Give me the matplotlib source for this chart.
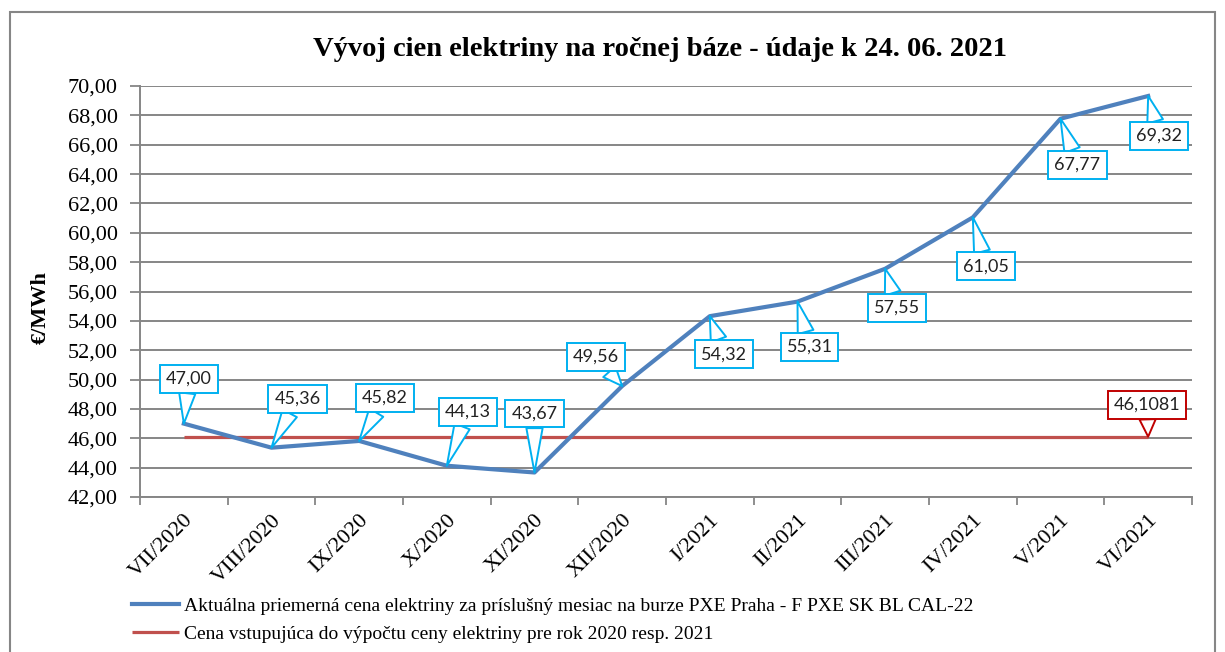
import matplotlib.pyplot as plt
from matplotlib.patches import Rectangle
import matplotlib.transforms as mtransforms
import numpy as np

months = ["VII/2020", "VIII/2020", "IX/2020", "X/2020", "XI/2020", "XII/2020",
          "I/2021", "II/2021", "III/2021", "IV/2021", "V/2021", "VI/2021"]
prices = [47.00, 45.36, 45.82, 44.13, 43.67, 49.56,
          54.32, 55.31, 57.55, 61.05, 67.77, 69.32]
base_price = 46.1081

label_blue = "Aktuálna priemerná cena elektriny za príslušný mesiac na burze PXE Praha - F PXE SK BL CAL-22"
label_red = "Cena vstupujúca do výpočtu ceny elektriny pre rok 2020 resp. 2021"
title = "Vývoj cien elektriny na ročnej báze - údaje k 24. 06. 2021"

# callout offsets in pixels (dx, dy), up is positive
offsets = [(5, 45), (26, 49), (26, 43), (21, 54), (0, 59), (-26, 29),
           (14, -38), (12, -45), (12, -39), (13, -49), (17, -46), (11, -40)]
red_offset = (-1, 32)

plt.rcParams['font.family'] = ['Liberation Serif', 'DejaVu Serif']

fig = plt.figure(figsize=(12.25, 6.52), dpi=100)
ax = fig.add_axes([140 / 1225, 1 - 497 / 652, (1192 - 140) / 1225, (497 - 86) / 652])

x = np.arange(len(months))
ax.plot([x[0], x[-1]], [base_price, base_price], color='#C0504D', lw=2.3,
        solid_capstyle='butt', label=label_red, zorder=3)
ax.plot(x, prices, color='#4F81BD', lw=3.0, label=label_blue, zorder=4)

cyan = '#00B0F0'
for xi, yi, (dx, dy) in zip(x, prices, offsets):
    ax.annotate(f"{yi:.2f}".replace('.', ','), xy=(xi, yi),
                xytext=(dx * 0.72, dy * 0.72), textcoords='offset points',
                ha='center', va='center', fontsize=13, family='Lato', color='#222222',
                bbox=dict(boxstyle='square,pad=0.33', fc='white', ec=cyan, lw=1.4),
                arrowprops=dict(arrowstyle='wedge,tail_width=0.9,shrink_factor=0.5',
                                fc='white', ec=cyan, lw=1.4, shrinkA=0, shrinkB=0),
                zorder=6)

ax.annotate(f"{base_price:.4f}".replace('.', ','), xy=(x[-1], base_price),
            xytext=(red_offset[0] * 0.72, red_offset[1] * 0.72), textcoords='offset points',
            ha='center', va='center', fontsize=13, family='Lato', color='#222222',
            bbox=dict(boxstyle='square,pad=0.33', fc='white', ec='#C00000', lw=1.4),
            arrowprops=dict(arrowstyle='wedge,tail_width=0.9,shrink_factor=0.5',
                            fc='white', ec='#C00000', lw=1.4, shrinkA=0, shrinkB=0),
            zorder=6)

ax.set_xlim(-0.5, len(months) - 0.5)
ax.set_ylim(42, 70)
yt = np.arange(42, 70.1, 2)
ax.set_yticks(yt)
ax.set_yticklabels([f"{v:.2f}".replace('.', ',') for v in yt], fontsize=16)
ax.set_xticks(np.arange(-0.5, len(months), 1))
ax.set_xticklabels([])
ax.set_xticks(x, minor=True)
ax.set_xticklabels(months, minor=True, rotation=45, ha='right', va='top',
                   rotation_mode='anchor', fontsize=16)
shift = mtransforms.ScaledTranslation(6 / 100, 0, fig.dpi_scale_trans)
for lab in ax.get_xticklabels(minor=True):
    lab.set_transform(lab.get_transform() + shift)
ax.tick_params(axis='x', which='minor', length=0, pad=10)
ax.tick_params(axis='x', which='major', length=6, color='#868686', width=1.3)
ax.tick_params(axis='y', length=7, color='#868686', width=1.3, pad=9)

ax.grid(axis='y', color='#868686', lw=1.4)
ax.set_axisbelow(True)
for s in ['top', 'right']:
    ax.spines[s].set_visible(False)
for s in ['left', 'bottom']:
    ax.spines[s].set_color('#868686')
    ax.spines[s].set_linewidth(1.4)

ax.set_ylabel("€/MWh", fontsize=16, fontweight='bold')
ax.yaxis.set_label_coords((51 - 140) / 1052, 0.46)
fig.text(660 / 1225, 1 - 50 / 652, title, ha='center', va='center',
         fontsize=20.5, fontweight='bold')

handles, labels = ax.get_legend_handles_labels()
fig.legend(handles[::-1], labels[::-1], loc='upper left',
           bbox_to_anchor=(132 / 1225, 1 - 597 / 652), frameon=False,
           fontsize=14, handlelength=2.4, handletextpad=0.3, labelspacing=0.55,
           borderaxespad=0, borderpad=0)

fig.patches.append(Rectangle((10 / 1225, -0.02), 1205 / 1225, 1 - 12 / 652 + 0.02,
                             transform=fig.transFigure, fill=False, ec='#868686', lw=1.5))

fig.savefig("out.png", dpi=100)
